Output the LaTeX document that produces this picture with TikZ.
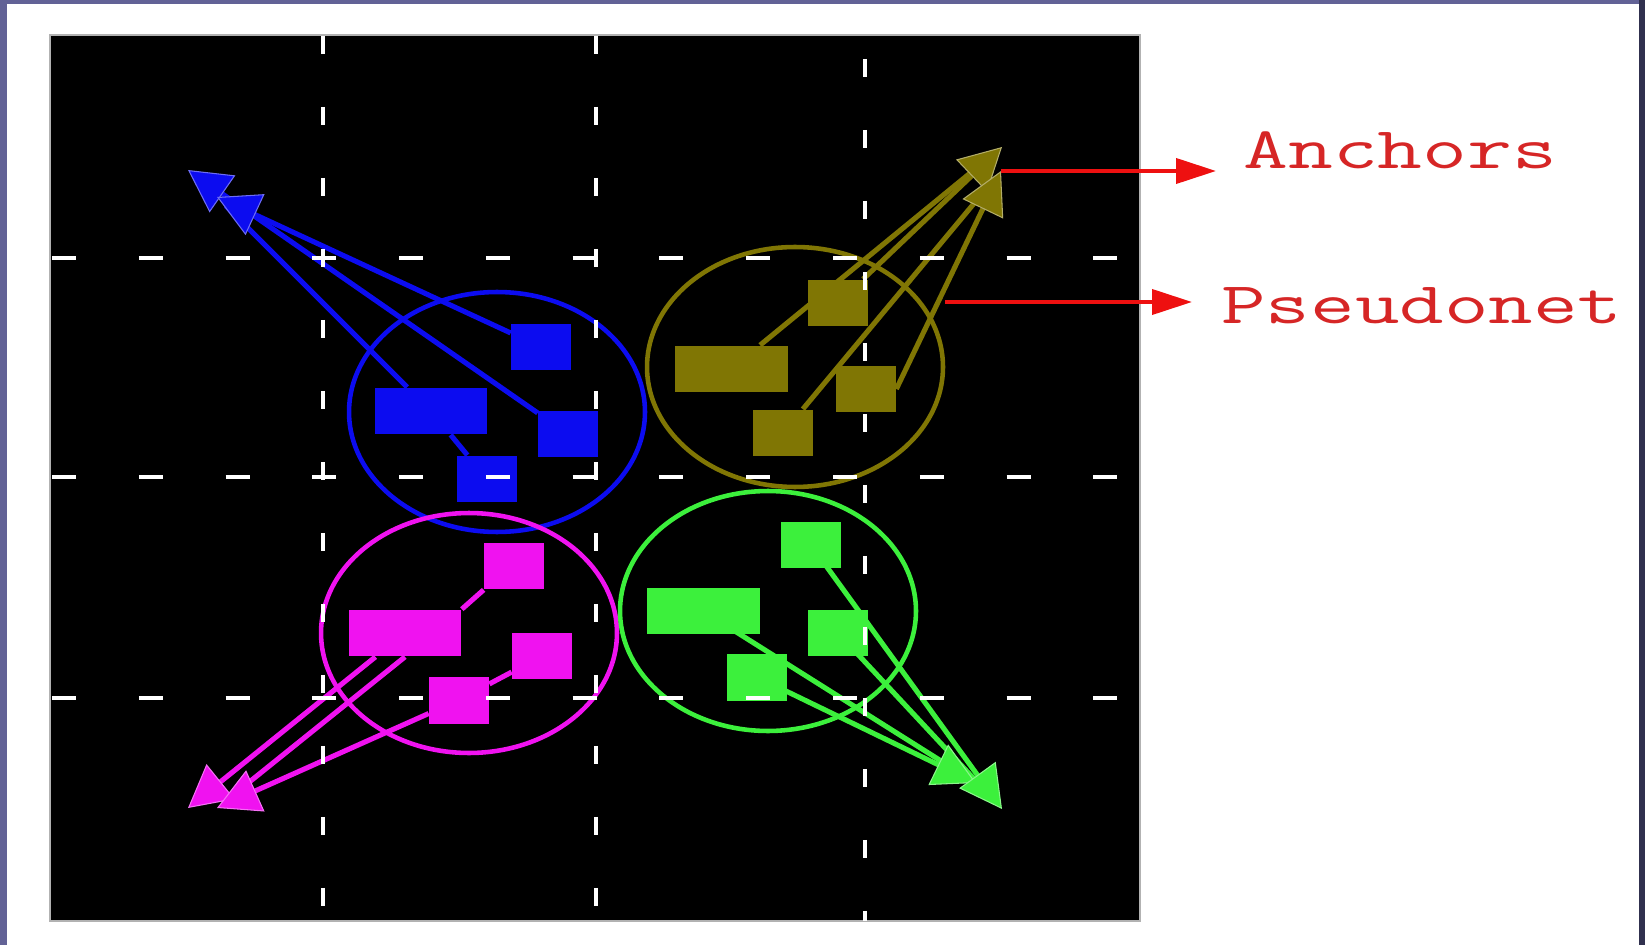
\documentclass[tikz,border=0pt]{standalone}
\usepackage{fontspec}
\usepackage{graphicx}
\usetikzlibrary{arrows.meta, shapes.geometric}

\definecolor{netblue}{RGB}{12,12,240}
\definecolor{netolive}{RGB}{128,118,4}
\definecolor{netpink}{RGB}{240,18,240}
\definecolor{netgreen}{RGB}{60,240,60}
\definecolor{calloutred}{RGB}{238,16,16}
\definecolor{tagred}{RGB}{214,38,38}
\definecolor{slate}{RGB}{98,98,150}
\definecolor{slatedark}{RGB}{48,48,78}

\begin{document}
\begin{tikzpicture}[
    x=0.02cm, y=-0.02cm,
    vgrid/.style={white, line width=2pt, dash pattern=on 0.36cm off 1.06cm},
    hgrid/.style={white, line width=2pt, dash pattern=on 0.48cm off 1.256cm},
    ring/.style={ellipse, draw=#1, line width=2.6pt, inner sep=0pt, minimum width=5.92cm, minimum height=4.8cm},
    cell/.style={rectangle, fill=#1, inner sep=0pt, minimum width=1.2cm, minimum height=0.94cm},
    bigcell/.style={cell=#1, minimum width=2.26cm},
    net/.style={#1, line width=2.9pt},
    netend/.style={net=#1, shorten >=0.25cm},
    netarrow/.style={net=#1, -{Triangle[length=0.84cm, width=0.9cm, fill=#1, color=#1!60!white, line width=0.6pt]}},
    callout/.style={calloutred, line width=2.2pt, -{Triangle[length=0.8cm, width=0.5cm]}},
    tag/.style={anchor=base west, inner sep=0pt, text=tagred, font=\ttfamily\fontsize{33.5pt}{36pt}\selectfont}
]
    \fill[slate] (0,0) rectangle (1645,945);
    \fill[slatedark] (1639,0) rectangle (1645,945);
    \fill[white] (7,4) rectangle (1639,945);
    \draw[fill=black, draw=gray!60, line width=0.8pt] (50,35) rectangle (1140,921);

    \node[ring=netblue] (bring) at (497,412) {};
    \node[ring=netolive] (oring) at (795,367) {};
    \node[ring=netpink] (mring) at (469,633) {};
    \node[ring=netgreen] (gring) at (768,611) {};

    \node[bigcell=netblue] (b1) at (431,411) {};
    \node[cell=netblue] (b2) at (541,347) {};
    \node[cell=netblue] (b3) at (568,434) {};
    \node[cell=netblue] (b4) at (487,479) {};
    \coordinate (btip1) at (188,170);
    \coordinate (btip2) at (217,197);

    \node[bigcell=netolive] (o1) at (731,369) {};
    \node[cell=netolive] (o2) at (838,303) {};
    \node[cell=netolive] (o3) at (866,389) {};
    \node[cell=netolive] (o4) at (783,433) {};
    \coordinate (otip1) at (1002,147);
    \coordinate (otip2) at (1001,171);

    \node[bigcell=netpink] (m1) at (405,633) {};
    \node[cell=netpink] (m2) at (514,566) {};
    \node[cell=netpink] (m3) at (542,656) {};
    \node[cell=netpink] (m4) at (459,700) {};
    \coordinate (mtip1) at (188,808);
    \coordinate (mtip2) at (217,808);

    \node[bigcell=netgreen] (g1) at (703,611) {};
    \node[cell=netgreen] (g2) at (811,545) {};
    \node[cell=netgreen] (g3) at (838,633) {};
    \node[cell=netgreen] (g4) at (757,677) {};
    \coordinate (gtip1) at (976,783);
    \coordinate (gtip2) at (1002,809);

    \draw[net=netblue] (b1) -- (b4);
    \draw[netend=netblue] (b1) -- (btip2);
    \draw[netarrow=netblue] (b3) -- (btip1);
    \draw[netarrow=netblue] (b2) -- (btip2);

    \draw[netend=netolive] (o1) -- (otip1);
    \draw[netend=netolive] (o4) -- (otip2);
    \draw[netarrow=netolive] (o2) -- (otip1);
    \draw[netarrow=netolive] (o3.east) -- (otip2);

    \draw[net=netpink] (m1.north east) -- (m2.south west);
    \draw[net=netpink] (m3) -- (m4);
    \draw[netend=netpink] (m1.south) -- (mtip2);
    \draw[netarrow=netpink] (m1) -- (mtip1);
    \draw[netarrow=netpink] (m4) -- (mtip2);

    \draw[netend=netgreen] (g1.center) -- (gtip1);
    \draw[netend=netgreen] (g3.center) -- (gtip2);
    \draw[netarrow=netgreen] (g4.center) -- (gtip1);
    \draw[netarrow=netgreen] (g2.center) -- (gtip2);

    \foreach \gx in {323,596}
        \draw[vgrid] (\gx,36) -- (\gx,921);
    \draw[vgrid] (865,59) -- (865,921);
    \foreach \gy in {258,477,698}
        \draw[hgrid] (52,\gy) -- (1120,\gy);

    \node[tag] (anchors) at (1243,169) {\scalebox{1.48}[1]{Anchors}};
    \node[tag] (pseudonet) at (1221,324) {\scalebox{1.47}[1]{Pseudonet}};
    \coordinate (pfoot) at (945,302);
    \draw[callout, shorten >=0.54cm] (otip2) -- (otip2 -| anchors.west);
    \draw[callout, shorten >=0.58cm] (pfoot) -- (pfoot -| pseudonet.west);
\end{tikzpicture}
\end{document}
